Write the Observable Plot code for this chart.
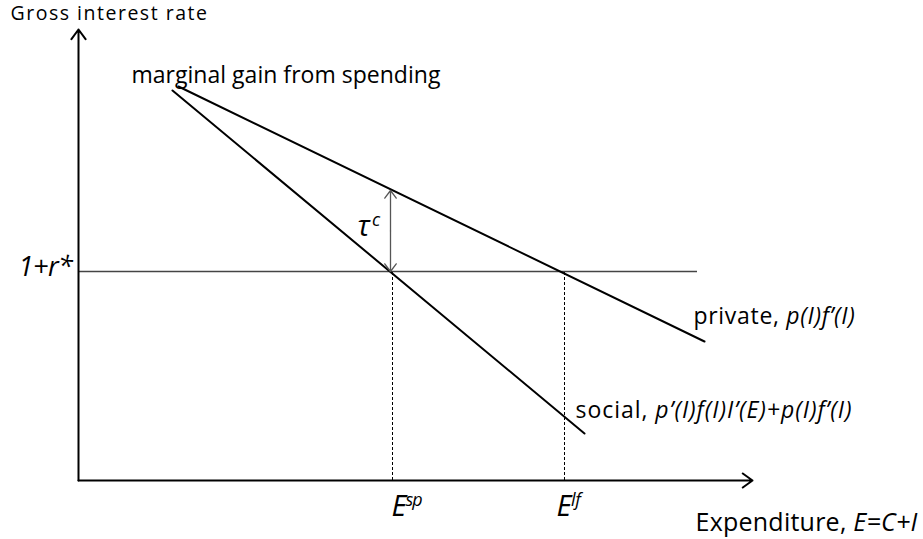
<!DOCTYPE html>
<html><head><meta charset="utf-8">
<script src="https://cdn.jsdelivr.net/npm/d3@7"></script>
<script src="https://cdn.jsdelivr.net/npm/@observablehq/plot@0.6"></script>
<style>
html,body{margin:0;padding:0;background:#fff;}
</style></head>
<body><div id="chart"></div>
<script>
// Diagram values (abstract units; origin at the axes' corner)
const axisXEnd = 67.4;
const axisYEnd = 45.1;
const privateX = [10.0, 62.6];
const privateY = [39.4, 13.9];
const socialX = [9.4, 50.6];
const socialY = [39.0, 4.7];
const rateValue = 20.9;
const rateXEnd = 61.9;
const eSP = 31.4;
const eLF = 48.6;
const privateAtESP = 29.0;

const labelText = [
  [{t:"Gross interest rate"}],
  [{t:"marginal gain from spending"}],
  [{t:"1+r*", i:true}],
  [{t:"τ", i:true},{t:"c", i:true, sup:true}],
  [{t:"private, "},{t:"p(I)f’(I)", i:true}],
  [{t:"social, "},{t:"p’(I)f(I)I’(E)+p(I)f’(I)", i:true}],
  [{t:"E", i:true},{t:"sp", i:true, sup:true}],
  [{t:"E", i:true},{t:"lf", i:true, sup:true}],
  [{t:"Expenditure, "},{t:"E=C+I", i:true}]
];
const labelX = [-6.8, 5.3, -6.0, 27.9, 61.5, 49.7, 31.3, 47.8, 61.7];
const labelY = [46.1, 39.8, 20.5, 24.5, 15.7, 6.3, -3.5, -3.5, -5.0];
const labelSize = [19.5, 23, 27, 29, 23, 23, 29, 29, 25];
const labelWidth = [198, 309, 54, 25, 162, 277, 30, 24, 222];

const labels = labelText.map((parts, k) => ({parts, x: labelX[k], y: labelY[k], size: labelSize[k], width: labelWidth[k]}));

const font = "'Open Sans', sans-serif";

const chart = Plot.plot({
  width: 923, height: 539,
  margin: 0,
  x: {domain: [-7.8, 84.5], range: [0, 923], axis: null},
  y: {domain: [-5.9, 48.0], range: [539, 0], axis: null},
  style: {background: "#fff", fontFamily: font, color: "#000"},
  marks: [
    Plot.ruleX([eSP, eLF], {x: d => d, y1: 0, y2: rateValue, stroke: "#000", strokeWidth: 1, strokeDasharray: "3,2"}),
    Plot.ruleY([rateValue], {x1: 0, x2: rateXEnd, y: d => d, stroke: "#444", strokeWidth: 1.3}),
    Plot.line(privateX.map((x, k) => ({x, y: privateY[k]})), {x: "x", y: "y", stroke: "#000", strokeWidth: 2}),
    Plot.line(socialX.map((x, k) => ({x, y: socialY[k]})), {x: "x", y: "y", stroke: "#000", strokeWidth: 2}),
    Plot.arrow([{x1: 0, y1: 0, x2: 0, y2: axisYEnd}, {x1: 0, y1: 0, x2: axisXEnd, y2: 0}],
      {x1: "x1", y1: "y1", x2: "x2", y2: "y2", stroke: "#000", strokeWidth: 2, headLength: 9, headAngle: 72}),
    Plot.arrow([{y1: (rateValue + privateAtESP) / 2, y2: privateAtESP}, {y1: (rateValue + privateAtESP) / 2, y2: rateValue}],
      {x1: eSP - 0.2, x2: eSP - 0.2, y1: "y1", y2: "y2", stroke: "#555", strokeWidth: 1.3, headLength: 11, headAngle: 74}),
    Plot.text(labels, {x: "x", y: "y", text: d => d.parts.map(p => p.t).join(""), textAnchor: "start", lineAnchor: "bottom", fill: "#000", className: "rich"})
  ]
});
document.getElementById("chart").appendChild(chart);

// Build mixed-style text (italic runs, superscripts), then fit each label's width
d3.select(chart).selectAll("g.rich text").each(function(_, k) {
  const lab = labels[k];
  const el = d3.select(this);
  el.text(null).style("font-size", lab.size + "px").attr("dy", null);
  lab.parts.forEach(p => {
    const ts = el.append("tspan").text(p.t);
    if (p.i) ts.style("font-style", "italic");
    if (p.sup) ts.attr("dy", "-0.55em").style("font-size", "0.62em");
  });
  const w = this.getComputedTextLength();
  const n = lab.parts.map(p => p.t).join("").length;
  el.style("letter-spacing", ((lab.width - w) / n).toFixed(2) + "px");
});
</script></body></html>
